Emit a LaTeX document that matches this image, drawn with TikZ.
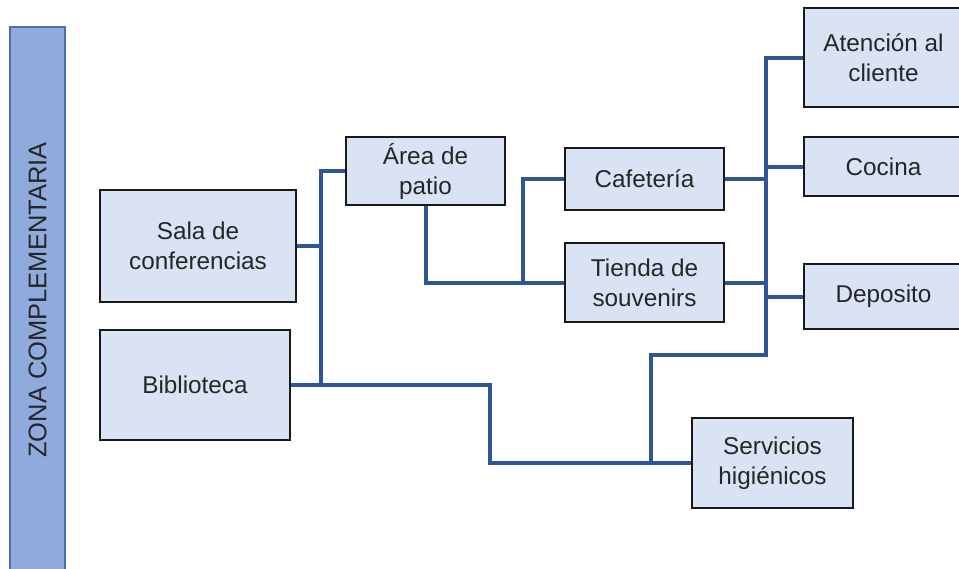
\documentclass[tikz,border=0pt]{standalone}
\usepackage{fontspec}
\setmainfont{Liberation Sans}
\usetikzlibrary{positioning}

\definecolor{boxfill}{HTML}{DAE3F3}
\definecolor{zonefill}{HTML}{8FAADC}
\definecolor{zoneline}{HTML}{4A6FB0}
\definecolor{linkblue}{HTML}{2F5597}

\begin{document}
\begin{tikzpicture}[
  x=1pt, y=-1pt,
  font=\fontsize{24.3}{30}\selectfont,
  box/.style={rectangle, draw=black!90, line width=2pt, fill=boxfill,
              minimum width=159pt, inner sep=2pt, align=center, text=black!85},
  zone/.style={rectangle, draw=zoneline, line width=1.5pt, fill=zonefill,
               minimum width=546pt, minimum height=55pt, rotate=90, text=black!85,
               font=\fontsize{25.5}{30}\selectfont},
  link/.style={draw=linkblue, line width=4pt}
]
\useasboundingbox (0,0) rectangle (959,568);
\clip (0,0) rectangle (959,568);

% zone bar
\node[zone] (zona) at (37.5, 300) {ZONA COMPLEMENTARIA};

% left column
\node[box, minimum width=196pt, minimum height=112pt] (sala) at (198, 246) {Sala de\\conferencias};
\node[box, minimum width=190pt, minimum height=110pt] (biblio) at (195, 385) {Biblioteca};

% middle
\node[box, minimum height=68pt] (patio)  at (425.5, 171)   {Área de\\patio};
\node[box, minimum height=62pt] (cafe)   at (644.5, 179)   {Cafetería};
\node[box, minimum height=79pt] (tienda) at (644.5, 282.5) {Tienda de\\souvenirs};
\node[box, minimum width=161pt, minimum height=90pt] (servicios) at (772.5, 463) {Servicios\\higiénicos};

% right column
\node[box, minimum height=99pt] (atencion) at (883.5, 57.5)  {Atención al\\cliente};
\node[box, minimum height=59pt] (cocina)   at (883.5, 166.5) {Cocina};
\node[box, minimum height=65pt] (deposito) at (883.5, 296.5) {Deposito};

% junctions
\coordinate (tr1) at (321, 246);
\coordinate (tr2) at (490, 420);
\coordinate (tr3) at (523, 282.5);
\coordinate (tk)  at (766, 355);
\coordinate (sv)  at (651, 463);

% links
\draw[link] (patio.west) -| (tr1) |- (biblio.east);
\draw[link] (sala.east) -- (tr1);
\draw[link] (biblio.east) -| (tr2) |- (servicios.west);
\draw[link] (patio.south) |- (tienda.west);
\draw[link] (cafe.west) -| (tr3);
\draw[link] (atencion.west) -| (tk) -| (sv);
\draw[link] (cocina.west) -- (cocina.west -| tk);
\draw[link] (deposito.west) -- (deposito.west -| tk);
\draw[link] (cafe.east) -- (cafe.east -| tk);
\draw[link] (tienda.east) -- (tienda.east -| tk);
\end{tikzpicture}
\end{document}
